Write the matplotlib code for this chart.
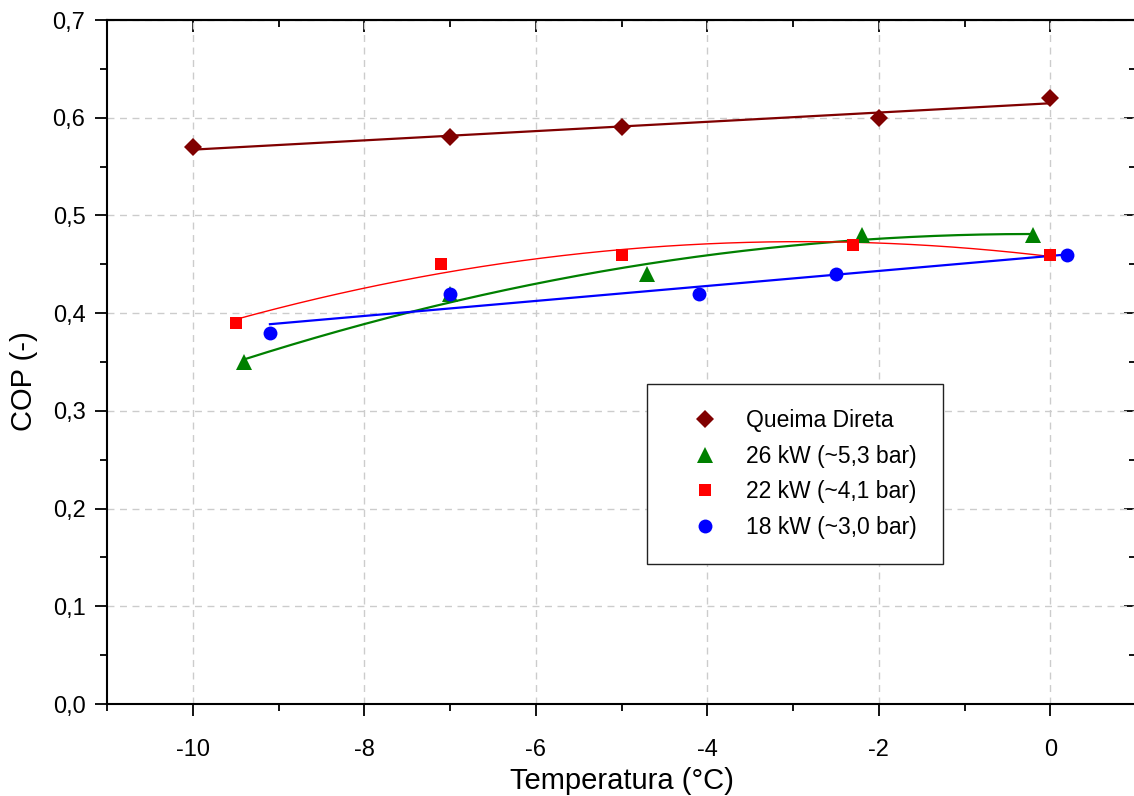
import numpy as np
import matplotlib
matplotlib.use("Agg")
import matplotlib.pyplot as plt
from matplotlib.ticker import MultipleLocator, FuncFormatter

plt.rcParams['font.family'] = ['Liberation Sans', 'DejaVu Sans']
plt.rcParams['axes.unicode_minus'] = False

# Data
queima_x = [-10, -7, -5, -2, 0]
queima_y = [0.57, 0.58, 0.59, 0.60, 0.62]
kw26_x = [-9.4, -7.0, -4.7, -2.2, -0.2]
kw26_y = [0.35, 0.42, 0.44, 0.48, 0.48]
kw22_x = [-9.5, -7.1, -5.0, -2.3, 0.0]
kw22_y = [0.39, 0.45, 0.46, 0.47, 0.46]
kw18_x = [-9.1, -7.0, -4.1, -2.5, 0.2]
kw18_y = [0.38, 0.42, 0.42, 0.44, 0.46]

labels = ["Queima Direta", "26 kW (~5,3 bar)", "22 kW (~4,1 bar)", "18 kW (~3,0 bar)"]

W, H = 1134, 796
fig = plt.figure(figsize=(W / 100, H / 100), dpi=100)
ax_l, ax_r, ax_t, ax_b = 107, 1136, 20, 704
ax = fig.add_axes([ax_l / W, 1 - ax_b / H, (ax_r - ax_l) / W, (ax_b - ax_t) / H])

series = [
    (queima_x, queima_y, 1, '#800000', 'D', 8.8, 1.6),
    (kw26_x, kw26_y, 2, '#008000', '^', 11, 1.6),
    (kw22_x, kw22_y, 2, '#ff0000', 's', 8.5, 1.0),
    (kw18_x, kw18_y, 1, '#0000ff', 'o', 10, 1.6),
]

for (xs, ys, deg, col, mk, ms, lw), lab in zip(series, labels):
    xs = np.array(xs); ys = np.array(ys)
    coef = np.polyfit(xs, ys, deg)
    xf = np.linspace(xs.min(), xs.max(), 200)
    ax.plot(xf, np.polyval(coef, xf), color=col, lw=lw, zorder=3)
    ax.plot(xs, ys, linestyle='none', marker=mk, markersize=ms, color=col,
            markeredgewidth=0, label=lab, zorder=4)

ax.set_xlim(-11, 1)
ax.set_ylim(0, 0.7)
ax.xaxis.set_major_locator(MultipleLocator(2))
ax.xaxis.set_minor_locator(MultipleLocator(1))
ax.yaxis.set_major_locator(MultipleLocator(0.1))
ax.yaxis.set_minor_locator(MultipleLocator(0.05))
ax.yaxis.set_major_formatter(FuncFormatter(lambda v, p: f"{v:.1f}".replace('.', ',')))
ax.xaxis.set_major_formatter(FuncFormatter(lambda v, p: f"{v:.0f}"))

ax.grid(True, which='major', color='#cccccc', linestyle=(0, (5, 4)), linewidth=1.0, zorder=0)
ax.set_axisbelow(True)

for s in ax.spines.values():
    s.set_linewidth(1.5)

ax.tick_params(which='both', direction='out', width=1.3, labelsize=17, top=False, right=False)
ax.tick_params(which='major', length=8.5)
ax.tick_params(which='minor', length=5)
ax.tick_params(axis='x', which='major', pad=17)
ax.tick_params(axis='y', which='major', pad=7)

# inward ticks on top/right
axt = ax.secondary_xaxis('top')
axt.xaxis.set_major_locator(MultipleLocator(2))
axt.xaxis.set_minor_locator(MultipleLocator(1))
axt.tick_params(which='both', direction='in', width=1.3, labeltop=False)
axt.tick_params(which='major', length=8.5)
axt.tick_params(which='minor', length=5)
axt.spines['top'].set_linewidth(1.5)
axr = ax.secondary_yaxis('right')
axr.yaxis.set_major_locator(MultipleLocator(0.1))
axr.yaxis.set_minor_locator(MultipleLocator(0.05))
axr.tick_params(which='both', direction='in', width=1.3, labelright=False)
axr.tick_params(which='major', length=8.5)
axr.tick_params(which='minor', length=5)

ax.set_xlabel("Temperatura (°C)", fontsize=21, labelpad=4)
ax.set_ylabel("COP (-)", fontsize=21)
ax.yaxis.set_label_coords((38 - ax_l) / (ax_r - ax_l), (ax_b - 381) / (ax_b - ax_t))

leg = ax.legend(loc='upper left',
                bbox_to_anchor=((647 - ax_l) / (ax_r - ax_l), (ax_b - 562) / (ax_b - ax_t),
                                (943 - 647) / (ax_r - ax_l), (562 - 384) / (ax_b - ax_t)),
                mode='expand', borderaxespad=0, fontsize=16.5, frameon=True, fancybox=False,
                edgecolor='#222222', framealpha=1, borderpad=1.1, labelspacing=0.55,
                handlelength=2.9, handletextpad=0.3, markerscale=1.0)
leg.get_frame().set_linewidth(1.0)
leg.set_zorder(10)

fig.savefig("out.png", dpi=100)
